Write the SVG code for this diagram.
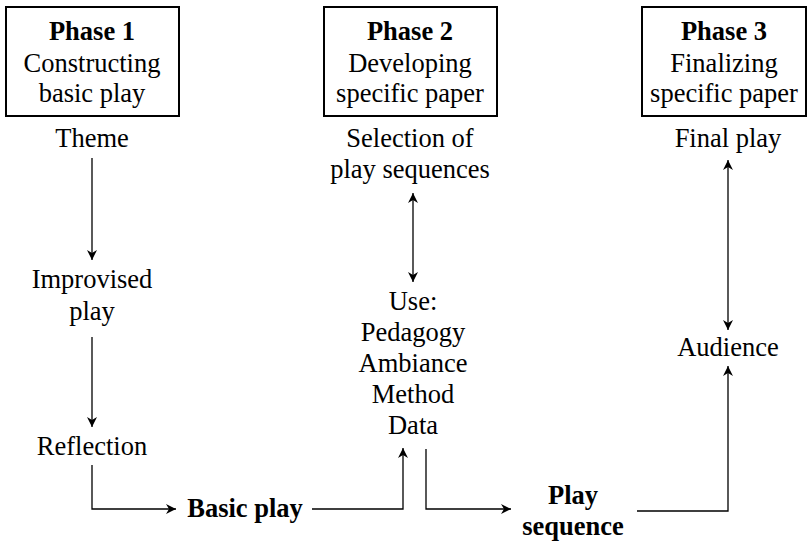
<svg xmlns="http://www.w3.org/2000/svg" width="808" height="542" viewBox="0 0 808 542">
<style>
text{font-family:"Liberation Serif","Times New Roman",serif;font-size:26.5px;fill:#000;text-anchor:middle}
.b{font-weight:bold}
.box{fill:#fff;stroke:#000;stroke-width:2}
.c{fill:none;stroke:#000;stroke-width:1.3}
</style>
<defs>
<marker id="ah" viewBox="0 0 10 10" refX="10" refY="5" markerWidth="10" markerHeight="10" markerUnits="userSpaceOnUse" orient="auto-start-reverse">
<path d="M0,0 L10,5 L0,10 L3,5 Z" fill="#000"/>
</marker>
</defs>
<rect width="808" height="542" fill="#fff"/>
<g id="phase1">
<rect class="box" x="6" y="7" width="173" height="109"/>
<text x="92" y="40" class="b">Phase 1</text>
<text x="92" y="72">Constructing</text>
<text x="92" y="102">basic play</text>
</g>
<g id="phase2">
<rect class="box" x="324" y="7" width="173" height="109"/>
<text x="410" y="40" class="b">Phase 2</text>
<text x="410" y="72">Developing</text>
<text x="410" y="102">specific paper</text>
</g>
<g id="phase3">
<rect class="box" x="642" y="7" width="164" height="109"/>
<text x="724" y="40" class="b">Phase 3</text>
<text x="724" y="72">Finalizing</text>
<text x="724" y="102">specific paper</text>
</g>
<g id="theme"><text x="92" y="147">Theme</text></g>
<g id="improvised"><text x="92" y="288">Improvised</text><text x="92" y="320">play</text></g>
<g id="reflection"><text x="92" y="455">Reflection</text></g>
<g id="basicplay"><text x="245" y="517" class="b">Basic play</text></g>
<g id="selection"><text x="410" y="147">Selection of</text><text x="410" y="178">play sequences</text></g>
<g id="use">
<text x="413" y="310">Use:</text>
<text x="413" y="341">Pedagogy</text>
<text x="413" y="372">Ambiance</text>
<text x="413" y="403">Method</text>
<text x="413" y="434">Data</text>
</g>
<g id="playsequence"><text x="573" y="504" class="b">Play</text><text x="573" y="535" class="b">sequence</text></g>
<g id="finalplay"><text x="728" y="147">Final play</text></g>
<g id="audience"><text x="728" y="356">Audience</text></g>
<g id="connectors">
<path class="c" d="M92,158 V260" marker-end="url(#ah)"/>
<path class="c" d="M92,337 V427" marker-end="url(#ah)"/>
<path class="c" d="M92,465 V509 H176" marker-end="url(#ah)"/>
<path class="c" d="M312,509 H403 V448" marker-end="url(#ah)"/>
<path class="c" d="M413,193 V282" marker-start="url(#ah)" marker-end="url(#ah)"/>
<path class="c" d="M426,449 V509 H511" marker-end="url(#ah)"/>
<path class="c" d="M637,511 H728 V366" marker-end="url(#ah)"/>
<path class="c" d="M728,160 V330" marker-start="url(#ah)" marker-end="url(#ah)"/>
</g>
</svg>
